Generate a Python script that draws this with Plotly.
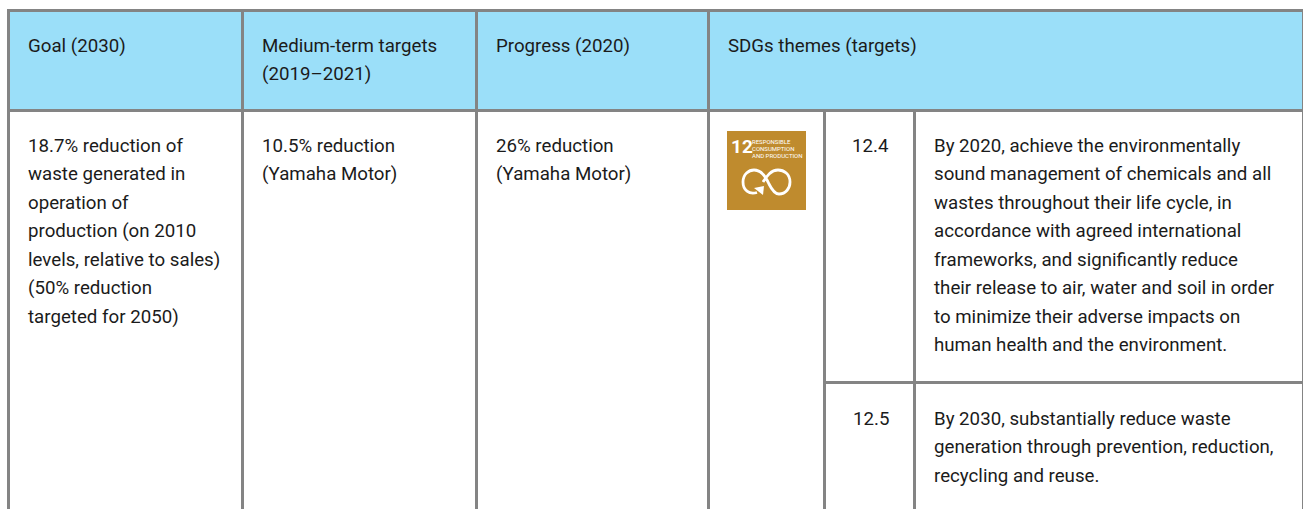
import plotly.graph_objects as go

headers = ["Goal (2030)", ["Medium-term targets", "(2019–2021)"], "Progress (2020)", "SDGs themes (targets)"]
goal_lines = ["18.7% reduction of", "waste generated in", "operation of", "production (on 2010",
              "levels, relative to sales)", "(50% reduction", "targeted for 2050)"]
medium_lines = ["10.5% reduction", "(Yamaha Motor)"]
progress_lines = ["26% reduction", "(Yamaha Motor)"]
target_ids = ["12.4", "12.5"]
target_124 = ["By 2020, achieve the environmentally", "sound management of chemicals and all",
              "wastes throughout their life cycle, in", "accordance with agreed international",
              "frameworks, and significantly reduce", "their release to air, water and soil in order",
              "to minimize their adverse impacts on", "human health and the environment."]
target_125 = ["By 2030, substantially reduce waste", "generation through prevention, reduction,",
              "recycling and reuse."]
icon_number = "12"
icon_lines = ["RESPONSIBLE", "CONSUMPTION", "AND PRODUCTION"]

LINE = "#848484"
HEAD = "#9bdff9"
INK = "#1b1b1b"
GOLD = "#bf8b2e"
FONT = "Roboto"
SIZE = 18.7
STEP = 28.57

shapes, notes = [], []

def rect(x0, y0, x1, y1, color):
    shapes.append(dict(type="rect", xref="x", yref="y", x0=x0, y0=y0, x1=x1, y1=y1,
                       fillcolor=color, line=dict(width=0), layer="below"))

def label(x, y, text, size=SIZE, color=INK, anchor="left", family=FONT, weight=None):
    font = dict(family=family, size=size, color=color)
    if weight:
        font["weight"] = weight
    notes.append(dict(x=x, y=y, xref="x", yref="y", text=text, showarrow=False, xanchor=anchor,
                      yanchor="middle", align=anchor, font=font, borderpad=0, borderwidth=0))

def block(x, y, lines):
    for i, t in enumerate(lines):
        label(x, y + i * STEP, t)

# header band
rect(7, 9, 1303, 112, HEAD)
# grid lines
rect(7, 9, 1303, 12, LINE)
rect(7, 109, 1303, 112, LINE)
rect(7, 9, 10, 509, LINE)
rect(241, 9, 244, 509, LINE)
rect(475, 9, 478, 509, LINE)
rect(707, 9, 710, 509, LINE)
rect(823, 112, 826, 509, LINE)
rect(913, 112, 916, 509, LINE)
rect(1302, 9, 1303, 509, LINE)
rect(824, 381, 1302, 384, LINE)

# header text
label(28, 45.5, headers[0])
block(262, 45.5, headers[1])
label(496, 45.5, headers[2])
label(728, 45.5, headers[3])

# body text
block(28, 145.5, goal_lines)
block(262, 145.5, medium_lines)
block(496, 145.5, progress_lines)
label(870.5, 145.5, target_ids[0], anchor="center")
label(870.5, 418.5, target_ids[1], anchor="center")
block(934, 145.5, target_124)
block(934, 418.5, target_125)

# SDG icon
rect(727, 131, 806, 210, GOLD)
label(731, 146, icon_number, size=19, color="white", weight="bold")
for i, t in enumerate(icon_lines):
    label(752, 141 + i * 7.4, t, size=6, color="white")
shapes.append(dict(type="path", xref="x", yref="y", layer="above",
    path="M 757 192.5 C 749 195 743 190 743 182 C 743 174 749 170 754 170 C 762 170 766 177 769 184 "
         "C 772 190 776 194 779 194 C 786 194 790 188 790 182 C 790 174 784 170 778 170 "
         "C 771 170 767 176 763 182",
    line=dict(color="white", width=2.8)))
shapes.append(dict(type="path", xref="x", yref="y", layer="above",
    path="M 754 188 L 764 186 L 763 195 Z", fillcolor="white", line=dict(width=0)))

fig = go.Figure()
fig.update_layout(
    width=1303, height=509, margin=dict(l=0, r=0, t=0, b=0), autosize=False,
    paper_bgcolor="white", plot_bgcolor="white", showlegend=False,
    xaxis=dict(range=[0, 1303], visible=False, fixedrange=True),
    yaxis=dict(range=[509, 0], visible=False, fixedrange=True),
    shapes=shapes, annotations=notes,
)
fig.write_html("out.html", config={"displayModeBar": False},
               post_script="document.body.style.margin='0';document.body.style.overflow='hidden';")
